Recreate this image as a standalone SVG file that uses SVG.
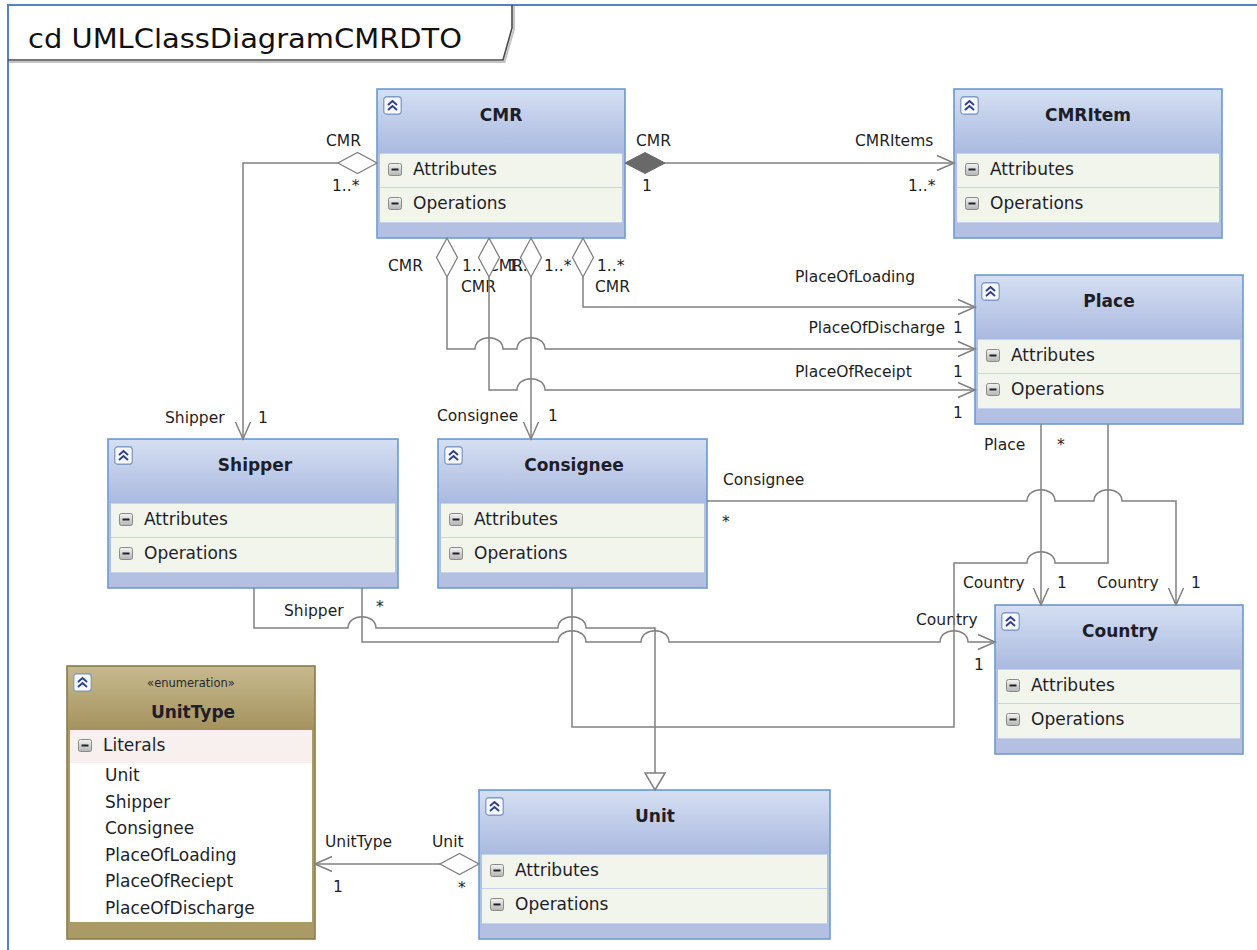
<svg xmlns="http://www.w3.org/2000/svg" xmlns:xlink="http://www.w3.org/1999/xlink" width="1257" height="950" viewBox="0 0 1257 950">
  <style>
    .box { fill: #b3c0e2; stroke: #6e9bd1; stroke-width: 1.6; }
    .row { fill: #f2f5ec; }
    .sep { stroke: #c6d3ec; stroke-width: 1; }
    .ebox { fill: #a99a68; stroke: #8b7d4f; stroke-width: 1.6; }
    .ttl { font-family: "DejaVu Sans", Verdana, sans-serif; font-weight: bold; font-size: 17px; fill: #1e1e28; text-anchor: middle; }
    .cmp { font-family: "DejaVu Sans", Verdana, sans-serif; font-size: 17px; fill: #1e1e28; }
    .lbl { font-family: "DejaVu Sans", Verdana, sans-serif; font-size: 15.5px; fill: #1e1e1e; }
    .end { text-anchor: end; }
    .ln { fill: none; stroke: #808080; stroke-width: 1.5; }
    .assoc { marker-end: url(#open); }
  </style>
  <defs>
    <linearGradient id="hdr" x1="0" y1="0" x2="0" y2="1">
      <stop offset="0" stop-color="#d5dff2"/>
      <stop offset="1" stop-color="#aab9df"/>
    </linearGradient>
    <linearGradient id="hdrE" x1="0" y1="0" x2="0" y2="1">
      <stop offset="0" stop-color="#c6b98e"/>
      <stop offset="1" stop-color="#a5935e"/>
    </linearGradient>
    <linearGradient id="btn" x1="0" y1="0" x2="0" y2="1">
      <stop offset="0" stop-color="#f4f4f4"/>
      <stop offset="1" stop-color="#b4b4b4"/>
    </linearGradient>
    <symbol id="collapse" viewBox="0 0 19 19" width="19" height="19">
      <rect x="0.75" y="0.75" width="17.5" height="17.5" rx="3" fill="#f6f8fc" stroke="#7f9cc8" stroke-width="1.3"/>
      <polyline points="5,9 9.5,5 14,9" fill="none" stroke="#2c3e8c" stroke-width="1.8"/>
      <polyline points="5,14 9.5,10 14,14" fill="none" stroke="#2c3e8c" stroke-width="1.8"/>
    </symbol>
    <symbol id="minus" viewBox="0 0 14 13" width="14" height="13">
      <rect x="0.5" y="0.5" width="13" height="12" rx="2" fill="url(#btn)" stroke="#8a8a8a" stroke-width="1"/>
      <line x1="3.5" y1="6.5" x2="10.5" y2="6.5" stroke="#222" stroke-width="2"/>
    </symbol>
    <marker id="open" markerUnits="userSpaceOnUse" markerWidth="20" markerHeight="18" refX="17" refY="8" orient="auto" overflow="visible">
      <path d="M0,0.5 L17,8 L0,15.5" fill="none" stroke="#808080" stroke-width="1.5"/>
    </marker>
    <marker id="agg" markerUnits="userSpaceOnUse" markerWidth="40" markerHeight="22" refX="0" refY="10.5" orient="auto" overflow="visible">
      <path d="M0,10.5 L19.5,0 L39,10.5 L19.5,21 Z" fill="#ffffff" stroke="#808080" stroke-width="1.3"/>
    </marker>
    <marker id="comp" markerUnits="userSpaceOnUse" markerWidth="40" markerHeight="22" refX="0" refY="10.5" orient="auto" overflow="visible">
      <path d="M0,10.5 L20,0 L40,10.5 L20,21 Z" fill="#696969" stroke="#696969" stroke-width="1"/>
    </marker>
    <marker id="gen" markerUnits="userSpaceOnUse" markerWidth="20" markerHeight="22" refX="17" refY="10" orient="auto" overflow="visible">
      <path d="M0,0 L17,10 L0,20 Z" fill="#ffffff" stroke="#808080" stroke-width="1.5"/>
    </marker>
  </defs>

  <rect x="0" y="0" width="1257" height="950" fill="#ffffff"/>

  <!-- diagram frame and name tab -->
  <g id="frame">
    <path d="M8 950 V5 H1257" fill="none" stroke="#5283c6" stroke-width="2"/>
    <path d="M9 62 H504.5 L514 29 V6" fill="none" stroke="#c4c4c4" stroke-width="2"/>
    <path d="M8 60 H503 L512 28 V5" fill="none" stroke="#4a4a4a" stroke-width="1.6"/>
    <text x="28" y="48" font-family="DejaVu Sans, Verdana, sans-serif" font-size="27" fill="#111" textLength="434" lengthAdjust="spacingAndGlyphs">cd UMLClassDiagramCMRDTO</text>
  </g>

  <!-- class CMR -->
  <g id="cmr">
    <rect class="box" x="377" y="89" width="248" height="149"/>
    <rect x="378" y="90" width="246" height="63" fill="url(#hdr)"/>
    <rect class="row" x="380" y="153" width="242" height="34"/>
    <rect class="row" x="380" y="187" width="242" height="35"/>
    <path class="sep" d="M380 153.5 H622 M380 187.5 H622 M380 222.5 H622"/>
    <use href="#collapse" x="383" y="96"/>
    <text class="ttl" x="501" y="121">CMR</text>
    <use href="#minus" x="388" y="163"/>
    <text class="cmp" x="413" y="175">Attributes</text>
    <use href="#minus" x="388" y="197"/>
    <text class="cmp" x="413" y="209">Operations</text>
  </g>

  <!-- class CMRItem -->
  <g id="cmritem">
    <rect class="box" x="954" y="89" width="268" height="149"/>
    <rect x="955" y="90" width="266" height="63" fill="url(#hdr)"/>
    <rect class="row" x="957" y="153" width="262" height="34"/>
    <rect class="row" x="957" y="187" width="262" height="35"/>
    <path class="sep" d="M957 153.5 H1219 M957 187.5 H1219 M957 222.5 H1219"/>
    <use href="#collapse" x="960" y="96"/>
    <text class="ttl" x="1088" y="121">CMRItem</text>
    <use href="#minus" x="965" y="163"/>
    <text class="cmp" x="990" y="175">Attributes</text>
    <use href="#minus" x="965" y="197"/>
    <text class="cmp" x="990" y="209">Operations</text>
  </g>

  <!-- class Place -->
  <g id="place">
    <rect class="box" x="975" y="275" width="268" height="149"/>
    <rect x="976" y="276" width="266" height="63" fill="url(#hdr)"/>
    <rect class="row" x="978" y="339" width="262" height="34"/>
    <rect class="row" x="978" y="373" width="262" height="35"/>
    <path class="sep" d="M978 339.5 H1240 M978 373.5 H1240 M978 408.5 H1240"/>
    <use href="#collapse" x="981" y="282"/>
    <text class="ttl" x="1109" y="307">Place</text>
    <use href="#minus" x="986" y="349"/>
    <text class="cmp" x="1011" y="361">Attributes</text>
    <use href="#minus" x="986" y="383"/>
    <text class="cmp" x="1011" y="395">Operations</text>
  </g>

  <!-- class Shipper -->
  <g id="shipper">
    <rect class="box" x="108" y="439" width="290" height="149"/>
    <rect x="109" y="440" width="288" height="63" fill="url(#hdr)"/>
    <rect class="row" x="111" y="503" width="284" height="34"/>
    <rect class="row" x="111" y="537" width="284" height="35"/>
    <path class="sep" d="M111 503.5 H395 M111 537.5 H395 M111 572.5 H395"/>
    <use href="#collapse" x="114" y="446"/>
    <text class="ttl" x="255" y="471">Shipper</text>
    <use href="#minus" x="119" y="513"/>
    <text class="cmp" x="144" y="525">Attributes</text>
    <use href="#minus" x="119" y="547"/>
    <text class="cmp" x="144" y="559">Operations</text>
  </g>

  <!-- class Consignee -->
  <g id="consignee">
    <rect class="box" x="438" y="439" width="269" height="149"/>
    <rect x="439" y="440" width="267" height="63" fill="url(#hdr)"/>
    <rect class="row" x="441" y="503" width="263" height="34"/>
    <rect class="row" x="441" y="537" width="263" height="35"/>
    <path class="sep" d="M441 503.5 H704 M441 537.5 H704 M441 572.5 H704"/>
    <use href="#collapse" x="444" y="446"/>
    <text class="ttl" x="574" y="471">Consignee</text>
    <use href="#minus" x="449" y="513"/>
    <text class="cmp" x="474" y="525">Attributes</text>
    <use href="#minus" x="449" y="547"/>
    <text class="cmp" x="474" y="559">Operations</text>
  </g>

  <!-- class Country -->
  <g id="country">
    <rect class="box" x="995" y="605" width="248" height="149"/>
    <rect x="996" y="606" width="246" height="63" fill="url(#hdr)"/>
    <rect class="row" x="998" y="669" width="242" height="34"/>
    <rect class="row" x="998" y="703" width="242" height="35"/>
    <path class="sep" d="M998 669.5 H1240 M998 703.5 H1240 M998 738.5 H1240"/>
    <use href="#collapse" x="1001" y="612"/>
    <text class="ttl" x="1120" y="637">Country</text>
    <use href="#minus" x="1006" y="679"/>
    <text class="cmp" x="1031" y="691">Attributes</text>
    <use href="#minus" x="1006" y="713"/>
    <text class="cmp" x="1031" y="725">Operations</text>
  </g>

  <!-- class Unit -->
  <g id="unit">
    <rect class="box" x="479" y="790" width="351" height="149"/>
    <rect x="480" y="791" width="349" height="63" fill="url(#hdr)"/>
    <rect class="row" x="482" y="854" width="345" height="34"/>
    <rect class="row" x="482" y="888" width="345" height="35"/>
    <path class="sep" d="M482 854.5 H827 M482 888.5 H827 M482 923.5 H827"/>
    <use href="#collapse" x="485" y="797"/>
    <text class="ttl" x="655" y="822">Unit</text>
    <use href="#minus" x="490" y="864"/>
    <text class="cmp" x="515" y="876">Attributes</text>
    <use href="#minus" x="490" y="898"/>
    <text class="cmp" x="515" y="910">Operations</text>
  </g>

  <!-- enumeration UnitType -->
  <g id="unittype">
    <rect class="ebox" x="67" y="666" width="248" height="273"/>
    <rect x="68" y="667" width="246" height="63" fill="url(#hdrE)"/>
    <rect x="70" y="730" width="242" height="33" fill="#f7f0ef"/>
    <rect x="70" y="763" width="242" height="159" fill="#ffffff"/>
    <use href="#collapse" x="73" y="673"/>
    <text x="191" y="687" font-family="DejaVu Sans, Verdana, sans-serif" font-size="11.5" fill="#2a2a2a" text-anchor="middle">«enumeration»</text>
    <text class="ttl" x="193" y="718">UnitType</text>
    <use href="#minus" x="78" y="739"/>
    <text class="cmp" x="103" y="751">Literals</text>
    <text class="cmp" x="105" y="781">Unit</text>
    <text class="cmp" x="105" y="807.5">Shipper</text>
    <text class="cmp" x="105" y="834">Consignee</text>
    <text class="cmp" x="105" y="860.5">PlaceOfLoading</text>
    <text class="cmp" x="105" y="887">PlaceOfReciept</text>
    <text class="cmp" x="105" y="913.5">PlaceOfDischarge</text>
  </g>

  <!-- role names and multiplicities -->
  <g id="labels">
    <text class="lbl" x="326" y="146">CMR</text>
    <text class="lbl" x="332" y="191">1..*</text>
    <text class="lbl" x="636" y="146">CMR</text>
    <text class="lbl" x="642" y="191">1</text>
    <text class="lbl" x="855" y="146">CMRItems</text>
    <text class="lbl" x="908" y="191">1..*</text>

    <text class="lbl" x="388" y="271">CMR</text>
    <text class="lbl" x="462" y="271">1..*</text>
    <text class="lbl" x="488" y="271">CMR</text>
    <text class="lbl" x="508" y="271">1..*</text>
    <text class="lbl" x="544" y="271">1..*</text>
    <text class="lbl" x="597" y="271">1..*</text>
    <text class="lbl" x="461" y="292">CMR</text>
    <text class="lbl" x="595" y="292">CMR</text>

    <text class="lbl" x="795" y="282">PlaceOfLoading</text>
    <text class="lbl end" x="945" y="333">PlaceOfDischarge</text>
    <text class="lbl" x="953" y="333">1</text>
    <text class="lbl" x="795" y="377">PlaceOfReceipt</text>
    <text class="lbl" x="953" y="377">1</text>
    <text class="lbl" x="953" y="418">1</text>

    <text class="lbl" x="165" y="423">Shipper</text>
    <text class="lbl" x="258" y="423">1</text>
    <text class="lbl" x="437" y="421">Consignee</text>
    <text class="lbl" x="548" y="421">1</text>

    <text class="lbl" x="984" y="450">Place</text>
    <text class="lbl" x="1057" y="450">*</text>
    <text class="lbl" x="723" y="485">Consignee</text>
    <text class="lbl" x="722" y="527">*</text>
    <text class="lbl" x="963" y="588">Country</text>
    <text class="lbl" x="1057" y="588">1</text>
    <text class="lbl" x="1097" y="588">Country</text>
    <text class="lbl" x="1191" y="588">1</text>

    <text class="lbl" x="284" y="616">Shipper</text>
    <text class="lbl" x="376" y="612">*</text>
    <text class="lbl" x="916" y="625">Country</text>
    <text class="lbl" x="974" y="670">1</text>

    <text class="lbl" x="325" y="847">UnitType</text>
    <text class="lbl" x="432" y="847">Unit</text>
    <text class="lbl" x="333" y="892">1</text>
    <text class="lbl" x="458" y="893">*</text>
  </g>

  <!-- associations and generalizations -->
  <g id="connectors">
    <!-- CMR to Shipper -->
    <path class="ln assoc" marker-start="url(#agg)" d="M377 163 H243 V439"/>
    <!-- CMR to CMRItem (composition) -->
    <path class="ln assoc" marker-start="url(#comp)" d="M625 163 H954"/>
    <!-- CMR to Place: PlaceOfDischarge -->
    <path class="ln assoc" marker-start="url(#agg)" d="M447 238 V349 H475 C475 334 503 334 503 349 H517 C517 334 545 334 545 349 H975"/>
    <!-- CMR to Place: PlaceOfReceipt -->
    <path class="ln assoc" marker-start="url(#agg)" d="M489 238 V390 H517 C517 375 545 375 545 390 H975"/>
    <!-- CMR to Consignee -->
    <path class="ln assoc" marker-start="url(#agg)" d="M531 238 V439"/>
    <!-- CMR to Place: PlaceOfLoading -->
    <path class="ln assoc" marker-start="url(#agg)" d="M583 238 V307 H975"/>

    <!-- Consignee to Country -->
    <path class="ln assoc" d="M707 501 H1027 C1027 486 1055 486 1055 501 H1094 C1094 486 1122 486 1122 501 H1176 V605"/>
    <!-- Place to Country -->
    <path class="ln assoc" d="M1041 424 V605"/>
    <!-- Shipper to Country -->
    <path class="ln assoc" d="M362 588 V642 H558 C558 627 586 627 586 642 H641 C641 627 669 627 669 642 H940 C940 627 968 627 968 642 H995"/>

    <!-- generalizations to Unit -->
    <path class="ln" d="M1108 424 V563 H1055 C1055 548 1027 548 1027 563 H954 V727 H655"/>
    <path class="ln" d="M572 588 V727 H655"/>
    <path class="ln" d="M254 588 V628 H348 C348 613 376 613 376 628 H558 C558 613 586 613 586 628 H655 V727"/>
    <path class="ln" marker-end="url(#gen)" d="M655 727 V790"/>

    <!-- Unit to UnitType -->
    <path class="ln assoc" marker-start="url(#agg)" d="M479 864 H315"/>
  </g>
</svg>
